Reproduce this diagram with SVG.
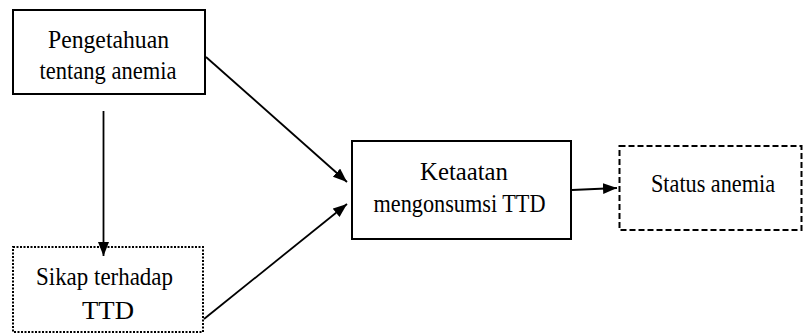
<svg xmlns="http://www.w3.org/2000/svg" width="803" height="334" viewBox="0 0 803 334">
<style>
.box{fill:#fff;stroke:#000;stroke-width:2}
.dot{stroke-dasharray:2 1.5}
.dash{stroke-dasharray:6 3}
.lbl{font-family:"Liberation Serif","Times New Roman",serif;font-size:26px;fill:#000}
.conn{stroke:#000;stroke-width:1.8;fill:none;marker-end:url(#ah)}
</style>
<defs>
<marker id="ah" markerUnits="userSpaceOnUse" markerWidth="15" markerHeight="12" refX="14" refY="5.5" orient="auto">
<path d="M0,0 L14,5.5 L0,11 z" fill="#000"/>
</marker>
</defs>
<rect width="803" height="334" fill="#fff"/>
<g id="pengetahuan">
<rect class="box" x="13" y="10" width="192" height="84"/>
<text class="lbl" x="48" y="47.5" textLength="121" lengthAdjust="spacingAndGlyphs">Pengetahuan</text>
<text class="lbl" x="39.5" y="79" textLength="137" lengthAdjust="spacingAndGlyphs">tentang anemia</text>
</g>
<g id="sikap">
<rect class="box dot" x="13" y="247" width="190" height="85"/>
<text class="lbl" x="36" y="285" textLength="137" lengthAdjust="spacingAndGlyphs">Sikap terhadap</text>
<text class="lbl" x="82" y="319" textLength="52" lengthAdjust="spacingAndGlyphs">TTD</text>
</g>
<g id="ketaatan">
<rect class="box" x="352" y="141" width="219" height="98"/>
<text class="lbl" x="420" y="179.5" textLength="88" lengthAdjust="spacingAndGlyphs">Ketaatan</text>
<text class="lbl" x="373.5" y="211.5" textLength="172" lengthAdjust="spacingAndGlyphs">mengonsumsi TTD</text>
</g>
<g id="status">
<rect class="box dash" x="619.5" y="146" width="182" height="84"/>
<text class="lbl" x="651" y="191.5" textLength="124" lengthAdjust="spacingAndGlyphs">Status anemia</text>
</g>
<g id="connectors">
<line class="conn" x1="206" y1="57" x2="347" y2="182"/>
<line class="conn" x1="103.5" y1="111" x2="103.5" y2="256"/>
<line class="conn" x1="204" y1="319" x2="347" y2="204"/>
<line class="conn" x1="572" y1="190" x2="617" y2="188"/>
</g>
</svg>
